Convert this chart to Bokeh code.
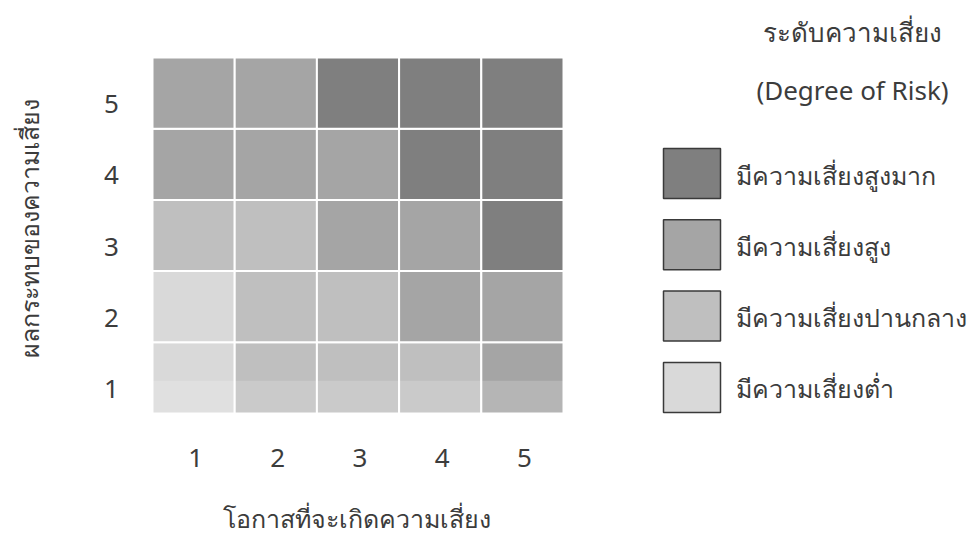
import math
from bokeh.plotting import figure
from bokeh.models import ColumnDataSource, Range1d
from bokeh.embed import file_html
from bokeh.resources import INLINE
from bokeh.core.properties import value

# ---------------- data ----------------
likelihood = [1, 2, 3, 4, 5]          # x: โอกาสที่จะเกิดความเสี่ยง
impact = [1, 2, 3, 4, 5]              # y: ผลกระทบของความเสี่ยง
# risk level index per cell (rows = impact 1..5, cols = likelihood 1..5)
# 0 = very high, 1 = high, 2 = medium, 3 = low
risk_impact_1 = [3, 2, 2, 2, 1]
risk_impact_2 = [3, 2, 2, 1, 1]
risk_impact_3 = [2, 2, 1, 1, 0]
risk_impact_4 = [1, 1, 1, 0, 0]
risk_impact_5 = [1, 1, 0, 0, 0]
risk_rows = [risk_impact_1, risk_impact_2, risk_impact_3, risk_impact_4, risk_impact_5]

level_labels = ["มีความเสี่ยงสูงมาก", "มีความเสี่ยงสูง", "มีความเสี่ยงปานกลาง", "มีความเสี่ยงต่ำ"]
level_colors = ["#7f7f7f", "#a5a5a5", "#bfbfbf", "#d9d9d9"]
x_title = "โอกาสที่จะเกิดความเสี่ยง"
y_title = "ผลกระทบของความเสี่ยง"
legend_title = ["ระดับความเสี่ยง", "(Degree of Risk)"]

# ---------------- layout (canvas pixels) ----------------
W, H = 979, 549
GL, GR, GT, GB = 152, 563, 57, 413      # grid box on canvas
ux = (GR - GL) / 5.0
uy = (GB - GT) / 5.0
x_start = 0.5 - GL / ux
x_end = x_start + W / ux
y_end = 5.5 + GT / uy
y_start = y_end - H / uy


def dx(cx):
    return x_start + cx / ux


def dy(cy):
    return y_end - cy / uy


FONT = value("Noto Sans")
TXT = "#3c3c3c"

p = figure(width=W, height=H, x_range=Range1d(x_start, x_end), y_range=Range1d(y_start, y_end),
           x_axis_type=None, y_axis_type=None, toolbar_location=None, output_backend="svg",
           min_border=0, outline_line_color=None)
p.grid.visible = False

# cells
cx, cy, cc = [], [], []
for yi, row in zip(impact, risk_rows):
    for xi, lvl in zip(likelihood, row):
        cx.append(xi)
        cy.append(yi)
        cc.append(level_colors[lvl])
src = ColumnDataSource(dict(x=cx, y=cy, color=cc))
p.rect(x="x", y="y", width=1, height=1, source=src, fill_color="color",
       line_color="white", line_width=2)

# light band at the bottom of the lowest row
band = 0.46
p.rect(x=likelihood, y=[impact[0] - 0.5 + band / 2] * len(likelihood), width=1, height=band,
       fill_color="white", fill_alpha=0.18, line_color=None)

# tick labels
p.text(x=[dx(111)] * len(impact), y=[v - 11 / uy for v in impact], text=[str(v) for v in impact],
       text_align="center", text_baseline="middle", text_font=FONT, text_font_size="26px",
       text_color=TXT)
p.text(x=[v + 2 / ux for v in likelihood], y=[dy(457)] * len(likelihood),
       text=[str(v) for v in likelihood], text_align="center", text_baseline="middle",
       text_font=FONT, text_font_size="26px", text_color=TXT)

# axis titles
p.text(x=[dx(356)], y=[dy(517)], text=[x_title], text_align="center", text_baseline="middle",
       text_font=FONT, text_font_size="25px", text_color=TXT)
p.text(x=[dx(28)], y=[dy(228)], text=[y_title], angle=math.pi / 2, text_align="center",
       text_baseline="middle", text_font=FONT, text_font_size="25px", text_color=TXT)

# legend
leg_cy = [173 + i * 71.3 for i in range(len(level_labels))]
p.rect(x=[dx(691.5)] * len(level_labels), y=[dy(c) for c in leg_cy], width=57, height=50,
       width_units="screen", height_units="screen", fill_color=level_colors,
       line_color="#3a3a3a", line_width=1.5)
p.text(x=[dx(735)] * len(level_labels), y=[dy(c + 1) for c in leg_cy], text=level_labels,
       text_align="left", text_baseline="middle", text_font=FONT, text_font_size="25px",
       text_color=TXT)
p.text(x=[dx(852)] * 2, y=[dy(31), dy(89)], text=legend_title, text_align="center",
       text_baseline="middle", text_font=FONT, text_font_size="26px", text_color=TXT)

open("out.html", "w").write(file_html(p, INLINE))
